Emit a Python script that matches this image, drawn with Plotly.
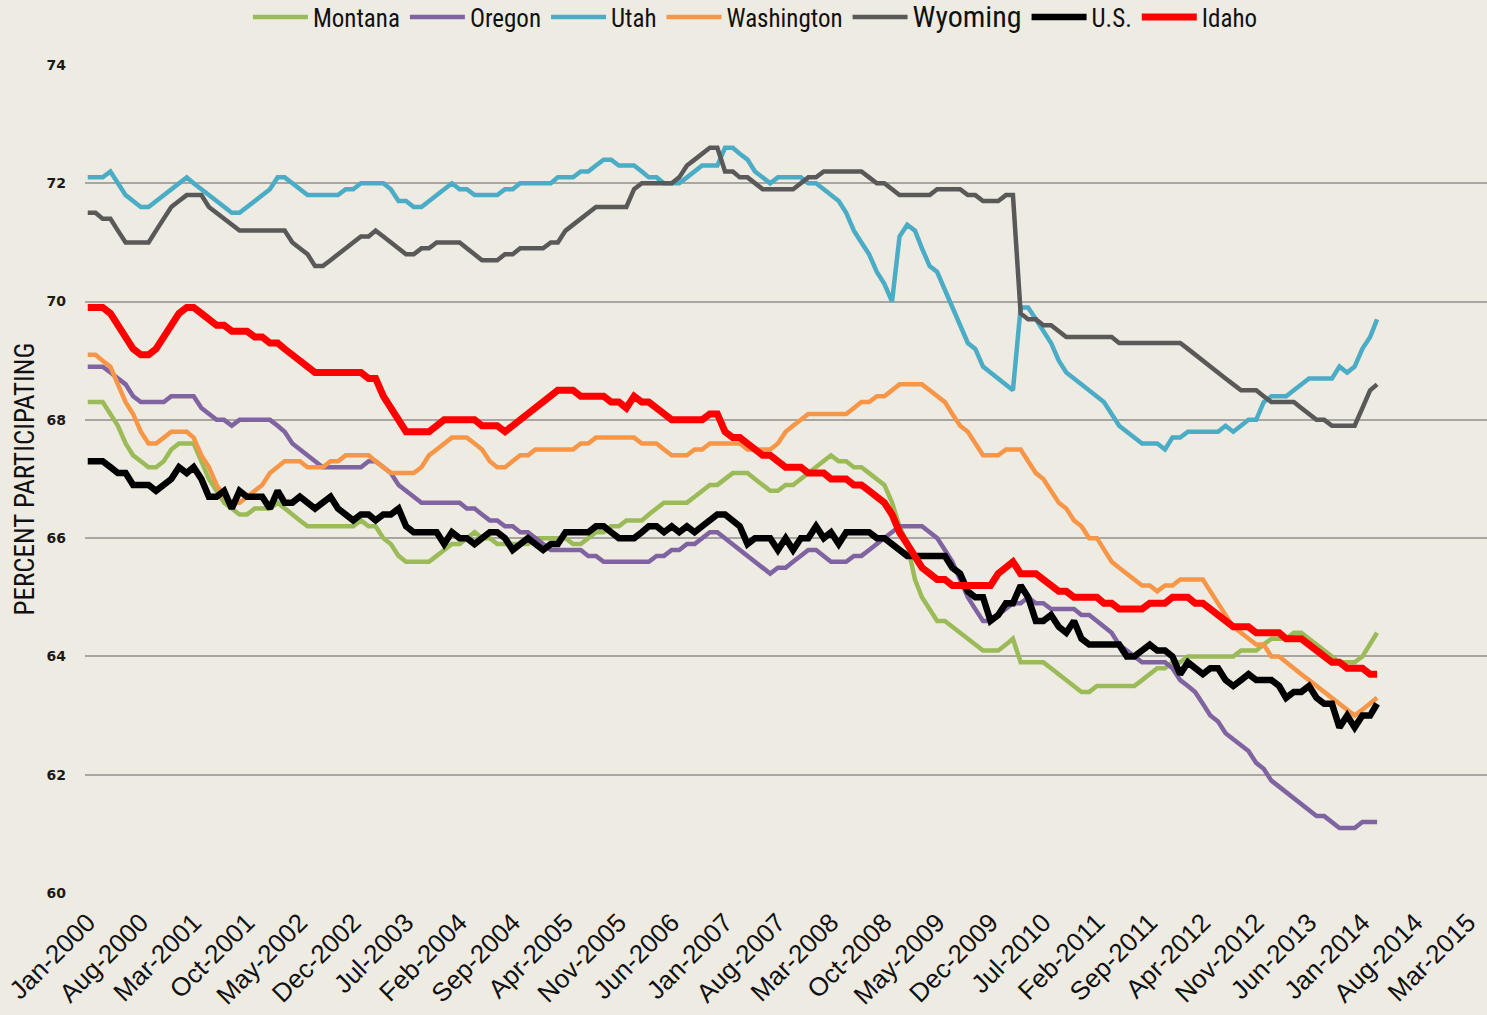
import pandas as pd
import plotly.graph_objects as go

start_month = "2000-01-01"

montana = [68.3,68.3,68.3,68.1,67.9,67.6,67.4,67.3,67.2,67.2,67.3,67.5,67.6,67.6,67.6,67.3,67.0,66.8,66.6,66.5,
           66.4,66.4,66.5,66.5,66.5,66.6,66.5,66.4,66.3,66.2,66.2,66.2,66.2,66.2,66.2,66.2,66.3,66.2,66.2,66.0,
           65.9,65.7,65.6,65.6,65.6,65.6,65.7,65.8,65.9,65.9,66.0,66.1,66.0,66.0,65.9,65.9,65.9,65.9,65.9,66.0,
           66.0,66.0,66.0,66.0,65.9,65.9,66.0,66.1,66.1,66.2,66.2,66.3,66.3,66.3,66.4,66.5,66.6,66.6,66.6,66.6,
           66.7,66.8,66.9,66.9,67.0,67.1,67.1,67.1,67.0,66.9,66.8,66.8,66.9,66.9,67.0,67.1,67.2,67.3,67.4,67.3,
           67.3,67.2,67.2,67.1,67.0,66.9,66.6,66.2,65.9,65.3,65.0,64.8,64.6,64.6,64.5,64.4,64.3,64.2,64.1,64.1,
           64.1,64.2,64.3,63.9,63.9,63.9,63.9,63.8,63.7,63.6,63.5,63.4,63.4,63.5,63.5,63.5,63.5,63.5,63.5,63.6,
           63.7,63.8,63.8,63.9,63.9,64.0,64.0,64.0,64.0,64.0,64.0,64.0,64.1,64.1,64.1,64.2,64.3,64.3,64.3,64.4,
           64.4,64.3,64.2,64.1,64.0,63.9,63.9,63.9,64.0,64.2,64.4]

oregon = [68.9,68.9,68.9,68.8,68.7,68.6,68.4,68.3,68.3,68.3,68.3,68.4,68.4,68.4,68.4,68.2,68.1,68.0,68.0,67.9,
          68.0,68.0,68.0,68.0,68.0,67.9,67.8,67.6,67.5,67.4,67.3,67.2,67.2,67.2,67.2,67.2,67.2,67.3,67.3,67.2,
          67.1,66.9,66.8,66.7,66.6,66.6,66.6,66.6,66.6,66.6,66.5,66.5,66.4,66.3,66.3,66.2,66.2,66.1,66.1,66.0,
          65.9,65.8,65.8,65.8,65.8,65.8,65.7,65.7,65.6,65.6,65.6,65.6,65.6,65.6,65.6,65.7,65.7,65.8,65.8,65.9,
          65.9,66.0,66.1,66.1,66.0,65.9,65.8,65.7,65.6,65.5,65.4,65.5,65.5,65.6,65.7,65.8,65.8,65.7,65.6,65.6,
          65.6,65.7,65.7,65.8,65.9,66.0,66.1,66.2,66.2,66.2,66.2,66.1,66.0,65.8,65.6,65.3,65.0,64.8,64.6,64.6,
          64.7,64.8,64.9,64.9,65.0,64.9,64.9,64.8,64.8,64.8,64.8,64.7,64.7,64.6,64.5,64.4,64.2,64.1,64.0,63.9,
          63.9,63.9,63.9,63.8,63.6,63.5,63.4,63.2,63.0,62.9,62.7,62.6,62.5,62.4,62.2,62.1,61.9,61.8,61.7,61.6,
          61.5,61.4,61.3,61.3,61.2,61.1,61.1,61.1,61.2,61.2,61.2]

utah = [72.1,72.1,72.1,72.2,72.0,71.8,71.7,71.6,71.6,71.7,71.8,71.9,72.0,72.1,72.0,71.9,71.8,71.7,71.6,71.5,
        71.5,71.6,71.7,71.8,71.9,72.1,72.1,72.0,71.9,71.8,71.8,71.8,71.8,71.8,71.9,71.9,72.0,72.0,72.0,72.0,
        71.9,71.7,71.7,71.6,71.6,71.7,71.8,71.9,72.0,71.9,71.9,71.8,71.8,71.8,71.8,71.9,71.9,72.0,72.0,72.0,
        72.0,72.0,72.1,72.1,72.1,72.2,72.2,72.3,72.4,72.4,72.3,72.3,72.3,72.2,72.1,72.1,72.0,72.0,72.0,72.1,
        72.2,72.3,72.3,72.3,72.6,72.6,72.5,72.4,72.2,72.1,72.0,72.1,72.1,72.1,72.1,72.0,72.0,71.9,71.8,71.7,
        71.5,71.2,71.0,70.8,70.5,70.3,70.0,71.1,71.3,71.2,70.9,70.6,70.5,70.2,69.9,69.6,69.3,69.2,68.9,68.8,
        68.7,68.6,68.5,69.9,69.9,69.7,69.5,69.3,69.0,68.8,68.7,68.6,68.5,68.4,68.3,68.1,67.9,67.8,67.7,67.6,
        67.6,67.6,67.5,67.7,67.7,67.8,67.8,67.8,67.8,67.8,67.9,67.8,67.9,68.0,68.0,68.3,68.4,68.4,68.4,68.5,
        68.6,68.7,68.7,68.7,68.7,68.9,68.8,68.9,69.2,69.4,69.7]

washington = [69.1,69.1,69.0,68.9,68.6,68.3,68.1,67.8,67.6,67.6,67.7,67.8,67.8,67.8,67.7,67.4,67.2,66.9,66.7,66.6,
              66.6,66.7,66.8,66.9,67.1,67.2,67.3,67.3,67.3,67.2,67.2,67.2,67.3,67.3,67.4,67.4,67.4,67.4,67.3,67.2,
              67.1,67.1,67.1,67.1,67.2,67.4,67.5,67.6,67.7,67.7,67.7,67.6,67.5,67.3,67.2,67.2,67.3,67.4,67.4,67.5,
              67.5,67.5,67.5,67.5,67.5,67.6,67.6,67.7,67.7,67.7,67.7,67.7,67.7,67.6,67.6,67.6,67.5,67.4,67.4,67.4,
              67.5,67.5,67.6,67.6,67.6,67.6,67.6,67.5,67.5,67.5,67.5,67.6,67.8,67.9,68.0,68.1,68.1,68.1,68.1,68.1,
              68.1,68.2,68.3,68.3,68.4,68.4,68.5,68.6,68.6,68.6,68.6,68.5,68.4,68.3,68.1,67.9,67.8,67.6,67.4,67.4,
              67.4,67.5,67.5,67.5,67.3,67.1,67.0,66.8,66.6,66.5,66.3,66.2,66.0,66.0,65.8,65.6,65.5,65.4,65.3,65.2,
              65.2,65.1,65.2,65.2,65.3,65.3,65.3,65.3,65.1,64.9,64.7,64.5,64.4,64.3,64.2,64.2,64.0,64.0,63.9,63.8,
              63.7,63.6,63.5,63.4,63.3,63.2,63.1,63.0,63.1,63.2,63.3]

wyoming = [71.5,71.5,71.4,71.4,71.2,71.0,71.0,71.0,71.0,71.2,71.4,71.6,71.7,71.8,71.8,71.8,71.6,71.5,71.4,71.3,
           71.2,71.2,71.2,71.2,71.2,71.2,71.2,71.0,70.9,70.8,70.6,70.6,70.7,70.8,70.9,71.0,71.1,71.1,71.2,71.1,
           71.0,70.9,70.8,70.8,70.9,70.9,71.0,71.0,71.0,71.0,70.9,70.8,70.7,70.7,70.7,70.8,70.8,70.9,70.9,70.9,
           70.9,71.0,71.0,71.2,71.3,71.4,71.5,71.6,71.6,71.6,71.6,71.6,71.9,72.0,72.0,72.0,72.0,72.0,72.1,72.3,
           72.4,72.5,72.6,72.6,72.2,72.2,72.1,72.1,72.0,71.9,71.9,71.9,71.9,71.9,72.0,72.1,72.1,72.2,72.2,72.2,
           72.2,72.2,72.2,72.1,72.0,72.0,71.9,71.8,71.8,71.8,71.8,71.8,71.9,71.9,71.9,71.9,71.8,71.8,71.7,71.7,
           71.7,71.8,71.8,69.8,69.7,69.7,69.6,69.6,69.5,69.4,69.4,69.4,69.4,69.4,69.4,69.4,69.3,69.3,69.3,69.3,
           69.3,69.3,69.3,69.3,69.3,69.2,69.1,69.0,68.9,68.8,68.7,68.6,68.5,68.5,68.5,68.4,68.3,68.3,68.3,68.3,
           68.2,68.1,68.0,68.0,67.9,67.9,67.9,67.9,68.2,68.5,68.6]

us = [67.3,67.3,67.3,67.2,67.1,67.1,66.9,66.9,66.9,66.8,66.9,67.0,67.2,67.1,67.2,67.0,66.7,66.7,66.8,66.5,
      66.8,66.7,66.7,66.7,66.5,66.8,66.6,66.6,66.7,66.6,66.5,66.6,66.7,66.5,66.4,66.3,66.4,66.4,66.3,66.4,
      66.4,66.5,66.2,66.1,66.1,66.1,66.1,65.9,66.1,66.0,66.0,65.9,66.0,66.1,66.1,66.0,65.8,65.9,66.0,65.9,
      65.8,65.9,65.9,66.1,66.1,66.1,66.1,66.2,66.2,66.1,66.0,66.0,66.0,66.1,66.2,66.2,66.1,66.2,66.1,66.2,
      66.1,66.2,66.3,66.4,66.4,66.3,66.2,65.9,66.0,66.0,66.0,65.8,66.0,65.8,66.0,66.0,66.2,66.0,66.1,65.9,
      66.1,66.1,66.1,66.1,66.0,66.0,65.9,65.8,65.7,65.7,65.7,65.7,65.7,65.7,65.5,65.4,65.1,65.0,65.0,64.6,
      64.7,64.9,64.9,65.2,65.0,64.6,64.6,64.7,64.5,64.4,64.6,64.3,64.2,64.2,64.2,64.2,64.2,64.0,64.0,64.1,
      64.2,64.1,64.1,64.0,63.7,63.9,63.8,63.7,63.8,63.8,63.6,63.5,63.6,63.7,63.6,63.6,63.6,63.5,63.3,63.4,
      63.4,63.5,63.3,63.2,63.2,62.8,63.0,62.8,63.0,63.0,63.2]

idaho = [69.9,69.9,69.9,69.8,69.6,69.4,69.2,69.1,69.1,69.2,69.4,69.6,69.8,69.9,69.9,69.8,69.7,69.6,69.6,69.5,
         69.5,69.5,69.4,69.4,69.3,69.3,69.2,69.1,69.0,68.9,68.8,68.8,68.8,68.8,68.8,68.8,68.8,68.7,68.7,68.4,
         68.2,68.0,67.8,67.8,67.8,67.8,67.9,68.0,68.0,68.0,68.0,68.0,67.9,67.9,67.9,67.8,67.9,68.0,68.1,68.2,
         68.3,68.4,68.5,68.5,68.5,68.4,68.4,68.4,68.4,68.3,68.3,68.2,68.4,68.3,68.3,68.2,68.1,68.0,68.0,68.0,
         68.0,68.0,68.1,68.1,67.8,67.7,67.7,67.6,67.5,67.4,67.4,67.3,67.2,67.2,67.2,67.1,67.1,67.1,67.0,67.0,
         67.0,66.9,66.9,66.8,66.7,66.6,66.4,66.1,65.9,65.7,65.5,65.4,65.3,65.3,65.2,65.2,65.2,65.2,65.2,65.2,
         65.4,65.5,65.6,65.4,65.4,65.4,65.3,65.2,65.1,65.1,65.0,65.0,65.0,65.0,64.9,64.9,64.8,64.8,64.8,64.8,
         64.9,64.9,64.9,65.0,65.0,65.0,64.9,64.9,64.8,64.7,64.6,64.5,64.5,64.5,64.4,64.4,64.4,64.4,64.3,64.3,
         64.3,64.2,64.1,64.0,63.9,63.9,63.8,63.8,63.8,63.7,63.7]

series_names = ["Montana", "Oregon", "Utah", "Washington", "Wyoming", "U.S.", "Idaho"]
tick_labels = ["Jan-2000", "Aug-2000", "Mar-2001", "Oct-2001", "May-2002", "Dec-2002", "Jul-2003",
               "Feb-2004", "Sep-2004", "Apr-2005", "Nov-2005", "Jun-2006", "Jan-2007", "Aug-2007",
               "Mar-2008", "Oct-2008", "May-2009", "Dec-2009", "Jul-2010", "Feb-2011", "Sep-2011",
               "Apr-2012", "Nov-2012", "Jun-2013", "Jan-2014", "Aug-2014", "Mar-2015"]
y_ticks = [60, 62, 64, 66, 68, 70, 72, 74]

values = [montana, oregon, utah, washington, wyoming, us, idaho]
colors = ["#9bbb59", "#8064a2", "#4bacc6", "#f79646", "#595959", "#000000", "#ff0000"]
widths = [4.5, 4.5, 4.5, 4.5, 4.5, 6.5, 7]

dates = pd.date_range(start_month, periods=len(idaho), freq="MS")
tickvals = [pd.to_datetime(t, format="%b-%Y") for t in tick_labels]

narrow = "Liberation Sans Narrow, Arial Narrow, Roboto Condensed, Liberation Sans, sans-serif"

fig = go.Figure()
for name, vals, col, w in zip(series_names, values, colors, widths):
    label = name
    if name == "Wyoming":
        label = "<span style='font-size:30px'>Wyoming</span>"
    fig.add_trace(go.Scatter(x=dates, y=vals, mode="lines", name=label,
                             line=dict(color=col, width=w)))

bg = "#eeebe3"
fig.update_layout(
    width=1487, height=1015,
    paper_bgcolor=bg, plot_bgcolor=bg,
    margin=dict(l=85, r=0, t=65, b=122),
    showlegend=True,
    legend=dict(orientation="h", xref="container", yref="container",
                x=0.508, xanchor="center", y=0.983, yanchor="middle",
                font=dict(family=narrow, size=25, color="#111111"),
                bgcolor="rgba(0,0,0,0)", itemwidth=55, tracegroupgap=0),
    xaxis=dict(range=["1999-12-21", "2015-05-16"], tickvals=tickvals, ticktext=tick_labels,
               tickangle=-45, showgrid=False, zeroline=False, showline=False,
               tickfont=dict(family="Liberation Sans, Arial, sans-serif", size=26, color="#111111"),
               ticks="", ticklabelstandoff=8),
    yaxis=dict(range=[60, 74], tickvals=y_ticks, showgrid=True, gridcolor="#a8a6a2", gridwidth=1.5,
               zeroline=False, showline=False, ticks="", ticklabelstandoff=18,
               tickfont=dict(family="DejaVu Sans, Verdana, sans-serif", size=14, color="#1a1a1a", weight="bold"),
               title=dict(text="PERCENT PARTICIPATING", standoff=4,
                          font=dict(family=narrow, size=27, color="#111111"))),
)

fig.write_html("out.html", config={"displayModeBar": False},
               post_script="document.body.style.margin='0';document.body.style.overflow='hidden';")
